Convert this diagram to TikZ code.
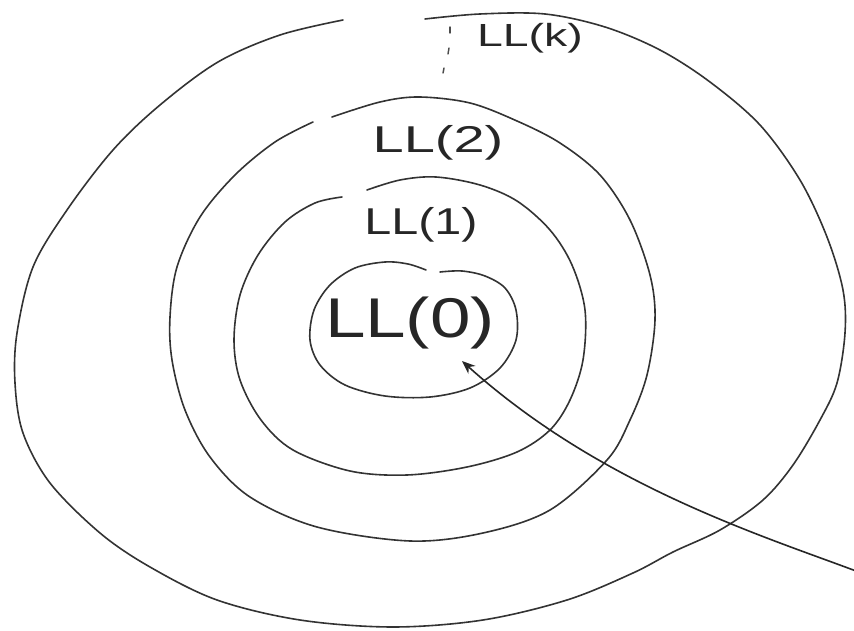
\documentclass[tikz,border=0pt]{standalone}
\usepackage{fontspec}
\setmainfont{Liberation Sans}
\usetikzlibrary{arrows.meta}
\tikzset{
  ring/.style={draw=black!80, line width=1.2pt, line cap=round, line join=round},
  lbl/.style={inner sep=0pt, anchor=base, text=black!85},
  conn/.style={draw=black!85, line width=1.2pt, -{Stealth[length=10pt,width=8pt]}},
  dots/.style={draw=black!70, line width=1.1pt, line cap=round}
}
\begin{document}
\begin{tikzpicture}[x=0.75pt,y=-0.75pt]
\useasboundingbox (0,0) rectangle (854,631);
% outer ring k
\draw[ring] plot[smooth, tension=0.55] coordinates {(425,19) (480,14) (545,14) (605,27) (660,50) (710,82) (760,125) (800,180) (827,237) (843,290) (845,333) (837,383) (820,420) (793,465) (763,500) (720,530) (673,552) (633,573) (567,600) (483,620) (393,627) (300,620) (217,600) (150,567) (100,533) (50,483) (23,433) (15,383) (17,333) (33,267) (67,210) (113,150) (160,105) (218,62) (280,35) (343,20)};
% ring 2
\draw[ring] plot[smooth, tension=0.55] coordinates {(332,117) (380,102) (419,97) (470,103) (517,121) (560,143) (600,175) (630,220) (650,275) (655,320) (647,375) (630,420) (607,460) (550,510) (483,533) (410,541) (317,527) (250,497) (210,457) (185,410) (172,360) (170,317) (177,267) (200,217) (235,175) (275,142) (313,122)};
% ring 1
\draw[ring] plot[smooth, tension=0.55] coordinates {(367,190) (400,180) (436,177) (480,185) (517,201) (550,230) (572,265) (585,310) (583,360) (570,400) (550,430) (517,452) (467,467) (407,475) (350,471) (293,450) (261,420) (240,380) (234,340) (240,295) (258,255) (285,222) (315,203) (342,197)};
% ring 0
\draw[ring] plot[smooth, tension=0.55] coordinates {(426,270) (408,264) (385,262) (355,268) (330,285) (314,310) (310,340) (320,365) (345,385) (385,396) (430,397) (470,388) (500,368) (516,340) (516,310) (505,288) (485,276) (462,271) (440,272)};
% labels
\node[lbl, font=\fontsize{42}{44}\selectfont, xscale=1.3] (l0) at (410,338) {LL(0)};
\node[lbl, font=\fontsize{28}{30}\selectfont, xscale=1.3] (l1) at (421,235) {LL(1)};
\node[lbl, font=\fontsize{28}{30}\selectfont, xscale=1.5] (l2) at (438,153) {LL(2)};
\node[lbl, font=\fontsize{24}{26}\selectfont, xscale=1.45] (lk) at (530,47) {LL(k)};
% dotted continuation
\draw[dots] (450,27) -- (450,33);
\draw[dots] (449,48) -- (448,54);
\draw[dots] (444,68) -- (443,73);
% arrow
\coordinate (src) at (856,571);
\coordinate (tip) at (462,361);
\draw[conn] (src) .. controls (760,535) and (600,485) .. (tip);
\end{tikzpicture}
\end{document}
